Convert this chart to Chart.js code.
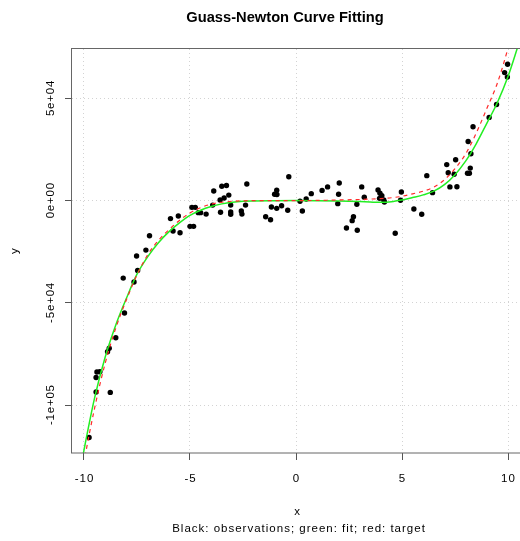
<!DOCTYPE html>
<html><head><meta charset="utf-8">
<script src="https://cdn.jsdelivr.net/npm/chart.js@4"></script>
<style>html,body{margin:0;padding:0;background:#fff;overflow:hidden}</style>
</head><body>
<canvas id="c" width="520" height="541"></canvas>
<script>
// ---- data ----
const obsX = [-9.76,-9.43,-8.76,-9.43,-9.39,-9.25,-8.89,-8.81,-8.50,-8.09,-8.15,-7.64,-7.47,-7.52,-7.08,-6.91,
  -5.92,-5.55,-5.80,-5.47,-5.00,-4.83,-4.91,-4.75,-4.61,-4.50,-4.24,-3.88,-3.93,-3.50,-3.28,-3.39,-3.58,-3.17,
  -3.56,-3.08,-3.08,-3.08,-2.58,-2.55,-2.38,-2.32,-1.43,-1.20,-1.16,-0.91,-0.68,-1.01,-0.91,-0.90,-0.39,-0.34,
  0.19,0.30,0.48,0.72,1.23,1.49,2.04,2.01,1.97,3.10,3.22,2.87,2.71,2.65,2.38,2.89,3.87,3.96,4.05,3.94,4.14,4.17,
  4.68,4.97,4.93,5.56,5.93,6.17,6.44,7.11,7.53,7.18,7.46,7.26,7.59,8.09,8.18,8.22,8.25,8.12,8.35,9.11,9.46,9.98,9.84,9.97];
const obsY = [-115900,-93600,-93800,-86500,-83800,-83700,-73900,-72200,-67100,-55000,-37900,-39800,-34200,-27100,-24200,-17200,
  -8800,-7500,-14900,-15700,-12600,-12600,-3300,-3300,-5900,-5900,-6600,4700,-2200,7000,7400,1300,300,2700,
  -5700,-2200,-5600,-6700,-5100,-6600,-2200,8100,-7900,-9400,-3100,-3800,-2500,3100,5100,3000,-4700,11700,
  -300,-5100,800,3400,5000,6700,8600,3100,-1500,6700,1700,-1800,-7900,-9800,-13400,-14500,5200,3600,2400,1100,300,-700,
  -16000,4200,200,-4100,-6700,12200,3900,17600,20000,13600,12900,6700,6800,13400,13400,15900,22900,28900,36100,40700,47000,66700,62600,60400];

const fitX = [-10.5,-10,-9.5,-9,-8.5,-8,-7.5,-7,-6.5,-6,-5.5,-5,-4.5,-4,-3.5,-3,-2.5,-2,-1,0,1,2,3,3.5,4,4.5,5,5.5,6,6.5,7,7.5,8,8.5,9,9.5,10,10.5];
const fitY = [-150000,-122000,-96500,-76500,-60800,-47800,-36000,-27500,-20700,-15300,-10900,-7200,-4700,-2900,-1600,-750,-300,-150,-50,0,-50,-200,-500,-700,-850,-600,300,1500,2800,4600,7800,12700,19300,27800,37800,48000,60700,76500];

const targetX = [-10.5,-10,-9.5,-9,-8.5,-8,-7.5,-7,-6.5,-6,-5.5,-5,-4.5,-4,-3.5,-3,-2.5,-2,-1,0,1,2,3,3.5,4,4.5,5,5.5,6,6.5,7,7.5,8,8.5,9,9.5,10,10.5];
const targetY = [-160000,-128000,-101500,-79500,-62300,-48500,-36300,-26600,-19600,-14300,-9700,-6000,-3500,-1700,-800,-300,-100,0,0,0,100,300,550,750,1000,1400,2100,3300,4600,6600,10200,15600,22800,33000,45000,57500,74500,94000];

const xTicks = [-10,-5,0,5,10];
const xTickLabels = ['-10','-5','0','5','10'];
const yTicks = [50000,0,-50000,-100000];
const yTickLabels = ['5e+04','0e+00','-5e+04','-1e+05'];
const titleText = 'Guass-Newton Curve Fitting';
const xTitle = 'x';
const yTitle = 'y';
const subTitle = 'Black: observations; green: fit; red: target';

// ---- chart ----
const FONT = "'Liberation Sans', Arial, Helvetica, sans-serif";
const pts = (xs, ys) => xs.map((x, i) => ({x: x, y: ys[i]}));

function spacedText(ctx, text, cx, y, sp) {
  ctx.letterSpacing = '0px';
  const w0 = ctx.measureText(text).width;
  const total = w0 + sp * (text.length - 1);
  ctx.letterSpacing = sp + 'px';
  ctx.textAlign = 'left';
  ctx.fillText(text, cx - total / 2, y);
  ctx.letterSpacing = '0px';
}

const textPlugin = {
  id: 'rtext',
  afterDraw(chart) {
    const ctx = chart.ctx, a = chart.chartArea;
    const xs = chart.scales.x, ys = chart.scales.y;
    ctx.save();
    // box
    ctx.strokeStyle = '#666';
    ctx.lineWidth = 1;
    ctx.strokeRect(71.5, 48.5, 460, 404.5);
    ctx.fillStyle = '#000';
    ctx.textBaseline = 'alphabetic';
    // title
    ctx.font = 'bold 14.7px ' + FONT;
    spacedText(ctx, titleText, 285, 21.5, 0);
    // x tick labels
    ctx.font = '11.5px ' + FONT;
    xTicks.forEach((v, i) => spacedText(ctx, xTickLabels[i], xs.getPixelForValue(v), 481.5, 1));
    // y tick labels (rotated)
    yTicks.forEach((v, i) => {
      ctx.save();
      ctx.translate(53.5, ys.getPixelForValue(v));
      ctx.rotate(-Math.PI / 2);
      spacedText(ctx, yTickLabels[i], 0, 0, 0.8);
      ctx.restore();
    });
    // axis titles
    spacedText(ctx, xTitle, (a.left + a.right) / 2 + 1, 515, 1);
    ctx.save();
    ctx.translate(18, (a.top + a.bottom) / 2);
    ctx.rotate(-Math.PI / 2);
    spacedText(ctx, yTitle, 0, 0, 1);
    ctx.restore();
    spacedText(ctx, subTitle, 298.5, 531.5, 1);
    ctx.restore();
  }
};

const gridCommon = {color: '#d3d3d3', lineWidth: 1, drawTicks: true, tickLength: 7, tickColor: '#555', tickWidth: 1, tickBorderDash: []};

new Chart(document.getElementById('c').getContext('2d'), {
  type: 'scatter',
  data: {
    datasets: [
      {label: 'target', data: pts(targetX, targetY), showLine: true, borderColor: '#ff2a2a', borderWidth: 1.2,
       borderDash: [4, 4], pointRadius: 0, cubicInterpolationMode: 'monotone', clip: 0, order: 0},
      {label: 'fit', data: pts(fitX, fitY), showLine: true, borderColor: '#22ee22', borderWidth: 1.5,
       pointRadius: 0, cubicInterpolationMode: 'monotone', clip: 0, order: 1},
      {label: 'obs', data: pts(obsX, obsY), showLine: false, pointRadius: 2.7, pointBorderWidth: 0,
       pointBackgroundColor: '#000', backgroundColor: '#000', borderColor: '#000', clip: 4, order: 2}
    ]
  },
  options: {
    responsive: false,
    animation: false,
    devicePixelRatio: 1,
    layout: {autoPadding: false, padding: {top: 49, left: 0, right: 0, bottom: 0}},
    plugins: {legend: {display: false}, tooltip: {enabled: false}, title: {display: false}},
    scales: {
      x: {
        type: 'linear', position: 'bottom', min: -10.566, max: 10.566,
        afterBuildTicks: s => { s.ticks = xTicks.map(v => ({value: v})); },
        afterFit: s => { s.height = 88; },
        ticks: {display: false},
        grid: gridCommon,
        border: {display: false, dash: [1, 3]}
      },
      y: {
        type: 'linear', position: 'left', min: -123450, max: 74150,
        afterBuildTicks: s => { s.ticks = yTicks.map(v => ({value: v})); },
        afterFit: s => { s.width = 72; },
        ticks: {display: false},
        grid: gridCommon,
        border: {display: false, dash: [1, 3]}
      }
    }
  },
  plugins: [textPlugin]
});
</script>
</body></html>
